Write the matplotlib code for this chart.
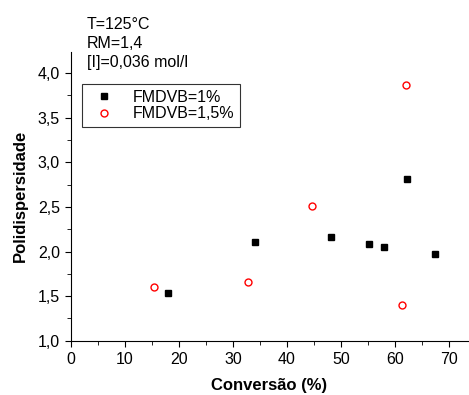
import numpy as np
import matplotlib.pyplot as plt
from matplotlib.ticker import MultipleLocator, FuncFormatter

plt.rcParams['font.family'] = ['Liberation Sans', 'DejaVu Sans']

# FMDVB = 1%
conv_1 = [18.0, 34.0, 48.2, 55.2, 58.0, 62.2, 67.3]
pdi_1 = [1.535, 2.11, 2.165, 2.085, 2.055, 2.815, 1.97]

# FMDVB = 1,5%
conv_15 = [15.4, 32.7, 44.7, 61.2, 62.1]
pdi_15 = [1.605, 1.66, 2.51, 1.395, 3.862]

W, H = 469, 395
fig = plt.figure(figsize=(W / 100, H / 100), dpi=100)
ax = fig.add_axes([71 / W, 1 - 340.7 / H, (468 - 71) / W, (340.7 - 51.7) / H])

ax.plot(conv_1, pdi_1, 's', color='black', markersize=4.6, label='FMDVB=1%')
ax.plot(conv_15, pdi_15, 'o', mfc='none', mec='red', mew=1.0, markersize=5,
        label='FMDVB=1,5%')

ax.set_xlim(0, 73.5)
ax.set_ylim(1.0, 4.24)
ax.spines['top'].set_visible(False)
ax.spines['right'].set_visible(False)

ax.xaxis.set_major_locator(MultipleLocator(10))
ax.xaxis.set_minor_locator(MultipleLocator(5))
ax.yaxis.set_major_locator(MultipleLocator(0.5))
ax.yaxis.set_minor_locator(MultipleLocator(0.25))
ax.yaxis.set_major_formatter(FuncFormatter(lambda v, p: f'{v:.1f}'.replace('.', ',')))
ax.tick_params(which='major', direction='out', length=4.5, labelsize=11.5)
ax.tick_params(which='minor', direction='out', length=3)

ax.set_xlabel('Conversão (%)', fontsize=12, fontweight='bold', labelpad=8)
ax.set_ylabel('Polidispersidade', fontsize=12, fontweight='bold', labelpad=7)

fig.text(87 / W, 1 - 29 / H, 'T=125°C', fontsize=11.5)
fig.text(87 / W, 1 - 48.5 / H, 'RM=1,4', fontsize=11.5)
fig.text(87 / W, 1 - 67 / H, '[I]=0,036 mol/l', fontsize=11.5)

leg = ax.legend(loc='upper left', bbox_to_anchor=((82 - 71) / (468 - 71), (340.7 - 84) / (340.7 - 51.7)),
                fontsize=11.5, frameon=True, fancybox=False, edgecolor='black',
                borderpad=0.35, handletextpad=0.8, labelspacing=0.1, borderaxespad=0)
leg.get_frame().set_linewidth(0.8)

plt.savefig('out.png', dpi=100)
